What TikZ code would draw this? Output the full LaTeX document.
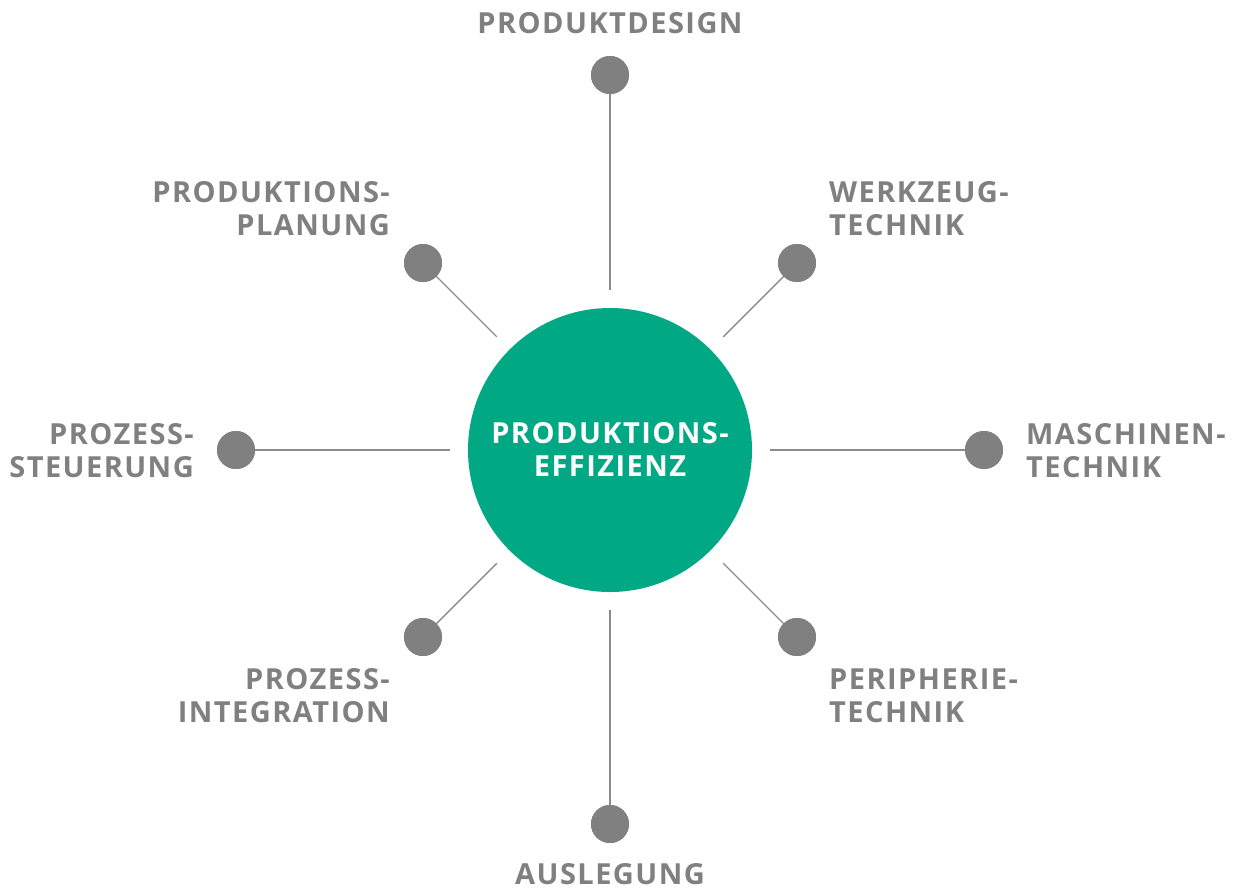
\documentclass[tikz,border=0pt]{standalone}
\usepackage{fontspec}
\usetikzlibrary{calc}
\setmainfont{Open Sans}[LetterSpace=5]
\definecolor{lbl}{HTML}{808080}
\definecolor{grn}{HTML}{00A884}
\definecolor{ln}{HTML}{8C8C8C}
\tikzset{
  dot/.style={circle, fill=lbl, minimum size=38pt, inner sep=0pt},
  lbl/.style={text=lbl, font=\fontsize{29}{33}\selectfont\bfseries, inner sep=0pt},
  conn/.style={draw=ln, line width=1.4pt}
}
\begin{document}
\begin{tikzpicture}[x=1pt,y=-1pt]
\useasboundingbox (0,0) rectangle (1236,892);
\node[circle, fill=grn, minimum size=284pt, inner sep=0pt] (c) at (610,450) {};
\node[lbl, text=white, align=center, anchor=base] (ct) at (610,476) {PRODUKTIONS-\\EFFIZIENZ};
\node[dot] (dN) at (610,75) {};
\node[dot] (dS) at (610,824) {};
\node[dot] (dW) at (236,450) {};
\node[dot] (dE) at (984,450) {};
\node[dot] (dNW) at (423,263) {};
\node[dot] (dNE) at (797,263) {};
\node[dot] (dSW) at (423,637) {};
\node[dot] (dSE) at (797,637) {};
\foreach \n/\a in {N/90,S/270,W/180,E/0,NW/135,NE/45,SW/225,SE/315}{
  \coordinate (e\n) at ($(c.center)+(\a:160pt)$);
}
\foreach \n in {N,S,W,E,NW,NE,SW,SE}{
  \draw[conn] (d\n.center) -- (e\n);
  \node[dot] at (d\n) {};
}
\node[lbl, anchor=base] (tN) at (610,33) {PRODUKTDESIGN};
\node[lbl, anchor=base] (tS) at (610,884) {AUSLEGUNG};
\node[lbl, align=right, anchor=base east] (tNW) at (390,235) {PRODUKTIONS-\\PLANUNG};
\node[lbl, align=left, anchor=base west] (tNE) at (829,235) {WERKZEUG-\\TECHNIK};
\node[lbl, align=right, anchor=base east] (tW) at (194,477) {PROZESS-\\STEUERUNG};
\node[lbl, align=left, anchor=base west] (tE) at (1026,477) {MASCHINEN-\\TECHNIK};
\node[lbl, align=right, anchor=base east] (tSW) at (390,722) {PROZESS-\\INTEGRATION};
\node[lbl, align=left, anchor=base west] (tSE) at (829,722) {PERIPHERIE-\\TECHNIK};
\end{tikzpicture}
\end{document}
